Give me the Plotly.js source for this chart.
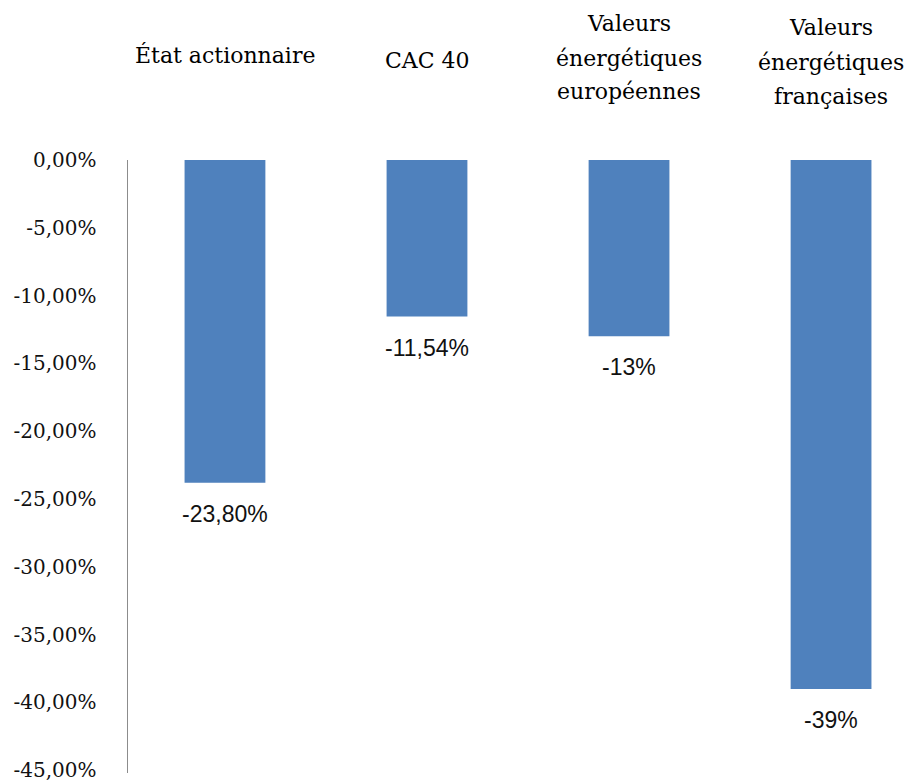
<!DOCTYPE html>
<html><head><meta charset="utf-8">
<script src="https://cdn.plot.ly/plotly-3.0.1.min.js"></script>
<style>html,body{margin:0;padding:0;background:#fff}#chart{width:906px;height:780px}</style>
</head><body><div id="chart"></div>
<script>
const categories = ["État actionnaire", "CAC 40", "Valeurs<br>énergétiques<br>européennes", "Valeurs<br>énergétiques<br>françaises"];
const values = [-23.80, -11.54, -13, -39];
const valueLabels = ["-23,80%", "-11,54%", "-13%", "-39%"];
const tickVals = [0, -5, -10, -15, -20, -25, -30, -35, -40, -45];
const tickText = ["0,00%", "-5,00%", "-10,00%", "-15,00%", "-20,00%", "-25,00%", "-30,00%", "-35,00%", "-40,00%", "-45,00%"];

const W = 906, H = 780, mt = 160, mb = 7, ml = 128;
const plotH = H - mt - mb;
// pixel centre of first line of each category label (from top of page)
const labelTop = [55, 60, 24, 28];
const lineStep = 34;
const toPaper = px => 1 + (mt - px) / plotH;

const annotations = [];
categories.forEach((c, i) => {
  c.split("<br>").forEach((line, j) => {
    annotations.push({
      x: i, xref: "x", y: toPaper(labelTop[i] + j * lineStep), yref: "paper",
      text: line, showarrow: false, xanchor: "center", yanchor: "middle",
      font: {family: "DejaVu Serif", size: 22, color: "#000"}
    });
  });
  annotations.push({
    x: i, xref: "x", y: values[i], yref: "y", text: valueLabels[i],
    showarrow: false, xanchor: "center", yanchor: "middle", yshift: -31,
    font: {family: "Liberation Sans", size: 23, color: "#111"}
  });
});

Plotly.newPlot("chart", [{
  type: "bar", x: [0, 1, 2, 3], y: values, width: 0.4,
  marker: {color: "#4F81BD"}, hoverinfo: "none"
}], {
  width: W, height: H,
  margin: {l: ml, r: 0, t: mt, b: mb, pad: 0},
  paper_bgcolor: "#fff", plot_bgcolor: "#fff",
  showlegend: false,
  xaxis: {range: [-0.48, 3.371], showticklabels: false, showgrid: false, zeroline: false, showline: false, ticks: ""},
  yaxis: {range: [-45.2, 0], tickvals: tickVals, ticktext: tickText, showgrid: false, zeroline: false,
          showline: true, linecolor: "#8c8c8c", linewidth: 1.5, ticks: "", ticklabelstandoff: 26,
          ticklabeloverflow: "allow",
          tickfont: {family: "DejaVu Serif", size: 20, color: "#111"}},
  annotations: annotations,
  bargap: 0.6
}, {staticPlot: true});
</script></body></html>
